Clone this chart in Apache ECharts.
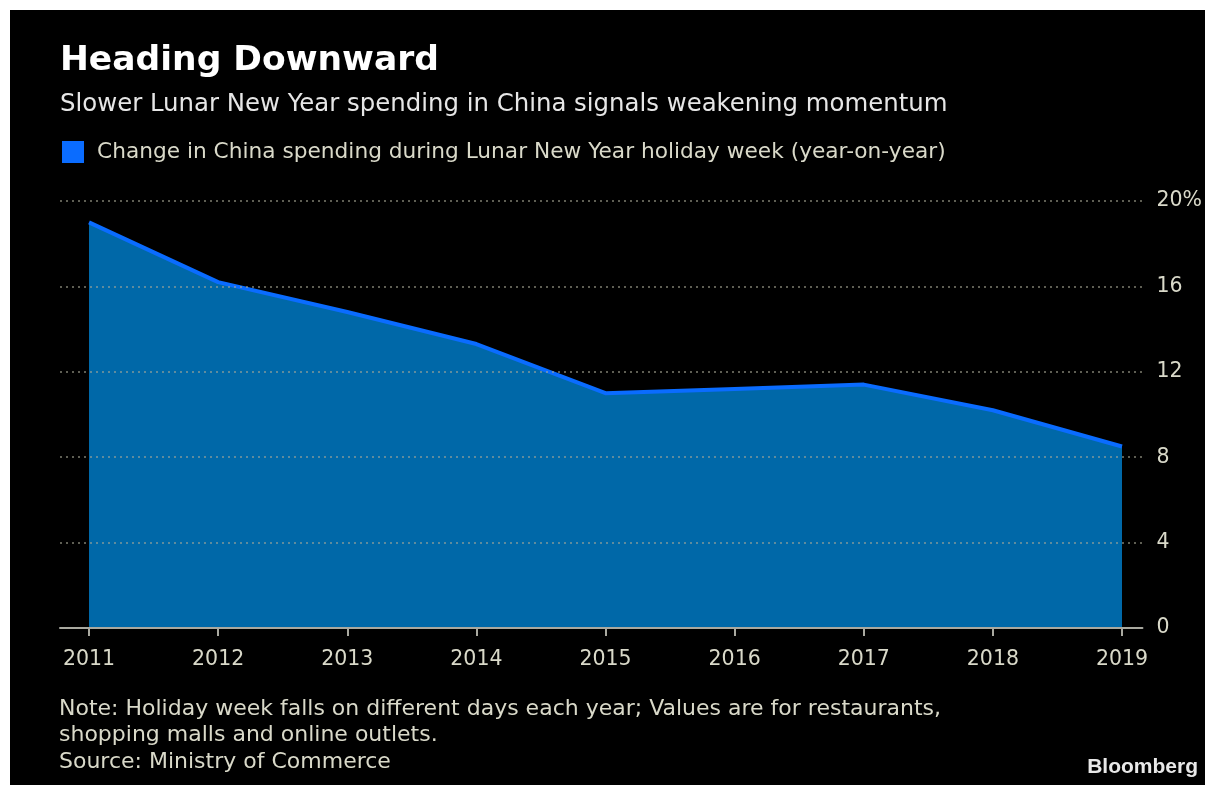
<!DOCTYPE html>
<html>
<head>
<meta charset="utf-8">
<script src="https://cdn.jsdelivr.net/npm/echarts@6/dist/echarts.min.js"></script>
<style>
  html, body { margin: 0; padding: 0; background: #ffffff; }
  #panel { position: absolute; left: 10px; top: 10px; width: 1195px; height: 775px; background: #000000; }
  #chart { position: absolute; left: 0; top: 0; width: 1205px; height: 785px; }
</style>
</head>
<body>
<div id="panel"></div>
<div id="chart"></div>
<script>
const years = ['2011', '2012', '2013', '2014', '2015', '2016', '2017', '2018', '2019'];
const spendingChange = [19.0, 16.2, 14.8, 13.3, 11.0, 11.2, 11.4, 10.2, 8.5];
const yTicks = { min: 0, max: 20, interval: 4 };
const seriesName = 'Change in China spending during Lunar New Year holiday week (year-on-year)';
const titleText = 'Heading Downward';
const subtitleText = 'Slower Lunar New Year spending in China signals weakening momentum';
const noteText = 'Note: Holiday week falls on different days each year; Values are for restaurants,\nshopping malls and online outlets.\nSource: Ministry of Commerce';

const FONT = '"DejaVu Sans", "Noto Sans", sans-serif';
const textColor = '#d9d9c9';

const chart = echarts.init(document.getElementById('chart'), null, { renderer: 'canvas' });
chart.setOption({
  backgroundColor: 'transparent',
  animation: false,
  title: [
    { text: titleText, left: 55, top: 39,
      textStyle: { color: '#ffffff', fontFamily: FONT, fontWeight: 'bold', fontSize: 34.5 } },
    { text: subtitleText, left: 55, top: 88,
      textStyle: { color: '#e6e6e6', fontFamily: FONT, fontWeight: 'normal', fontSize: 24.4 } },
    { text: noteText, left: 54, top: 691,
      textStyle: { color: textColor, fontFamily: FONT, fontWeight: 'normal', fontSize: 22, lineHeight: 26.5 } },
    { text: 'Bloomberg', right: 2, top: 752,
      textStyle: { color: '#e8e8e8', fontFamily: '"Liberation Sans", Arial, sans-serif', fontWeight: 'bold', fontSize: 21 } }
  ],
  legend: {
    left: 57, top: 136,
    icon: 'rect', itemWidth: 22, itemHeight: 22, itemGap: 10,
    textStyle: { color: textColor, fontFamily: FONT, fontSize: 21.7, padding: [0, 0, 0, 8] },
    data: [seriesName]
  },
  grid: [
    { left: 60, right: 55, top: 201, bottom: 157 },
    { left: 89, right: 83, top: 201, bottom: 157 }
  ],
  xAxis: [
    { gridIndex: 0, type: 'value', min: 0, max: 1,
      axisLine: { show: true, lineStyle: { color: '#a9a9a0', width: 2 } },
      axisTick: { show: false }, axisLabel: { show: false }, splitLine: { show: false }, z: 6 },
    { gridIndex: 1, type: 'category', data: years, boundaryGap: false,
      axisLine: { show: true, lineStyle: { color: 'rgba(0,0,0,0)' } },
      axisTick: { show: true, length: 8, alignWithLabel: true, lineStyle: { color: '#a9a9a0', width: 2 } },
      axisLabel: { color: textColor, fontFamily: FONT, fontSize: 20.5, margin: 21 },
      splitLine: { show: false } }
  ],
  yAxis: [
    { gridIndex: 0, type: 'value', position: 'right', min: yTicks.min, max: yTicks.max, interval: yTicks.interval,
      z: 5,
      axisLine: { show: false }, axisTick: { show: false },
      axisLabel: { color: textColor, fontFamily: FONT, fontSize: 20.5, margin: 14, align: 'left',
        formatter: v => v === yTicks.max ? v + '%' : String(v) },
      splitLine: { show: true, lineStyle: { color: 'rgba(170,170,150,0.75)', type: [2, 4], width: 1.5 } } },
    { gridIndex: 1, type: 'value', min: yTicks.min, max: yTicks.max, show: false }
  ],
  series: [{
    name: seriesName,
    type: 'line',
    xAxisIndex: 1, yAxisIndex: 1,
    data: spendingChange,
    symbol: 'none',
    z: 2,
    itemStyle: { color: '#0a6cff' },
    lineStyle: { color: '#0a6cff', width: 4 },
    areaStyle: { color: '#0068a8', opacity: 1 }
  }]
});
</script>
</body>
</html>
